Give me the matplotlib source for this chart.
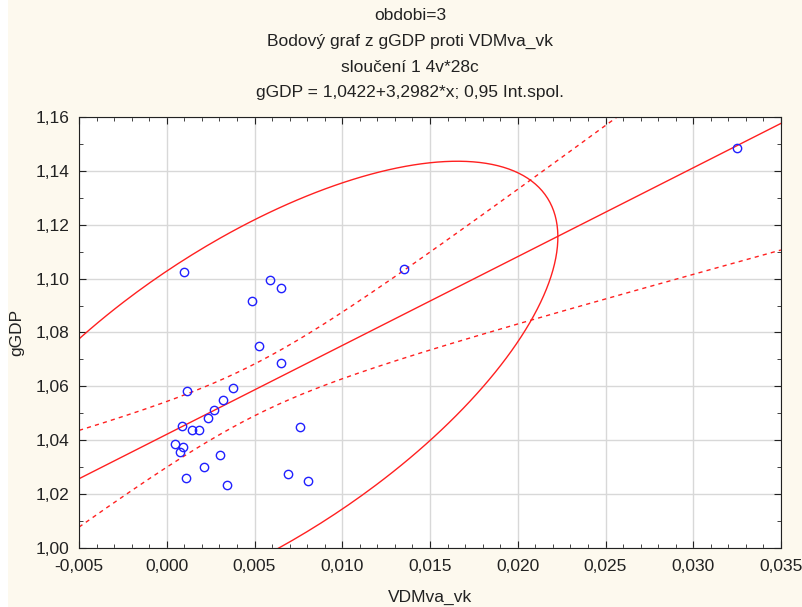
import numpy as np
import matplotlib
matplotlib.use("Agg")
import matplotlib.pyplot as plt
from matplotlib.patches import Rectangle
from matplotlib.ticker import MultipleLocator, FuncFormatter

plt.rcParams['font.family'] = ['Liberation Sans', 'DejaVu Sans']

# data
vdmva_vk = [0.0325, 0.0135, 0.00098, 0.00588, 0.0065, 0.00486, 0.00526, 0.0065,
            0.00377, 0.00115, 0.0032, 0.00269, 0.00235, 0.00087, 0.00144, 0.00184,
            0.00759, 0.00047, 0.00093, 0.00076, 0.00303, 0.00212, 0.00110, 0.00691,
            0.00343, 0.00805]
ggdp = [1.1485, 1.1036, 1.1025, 1.0995, 1.0965, 1.0917, 1.0750, 1.0687,
        1.0594, 1.0583, 1.0549, 1.0512, 1.0483, 1.0453, 1.0438, 1.0438,
        1.0449, 1.0386, 1.0375, 1.0356, 1.0345, 1.0301, 1.0260, 1.0275,
        1.0234, 1.0249]
intercept = 1.0422
slope = 3.2982

x = np.array(vdmva_vk)
y = np.array(ggdp)
n = len(x)

fig = plt.figure(figsize=(8.03, 6.07), dpi=100, facecolor='white')
fig.patches.append(Rectangle((8 / 803, 0), 1, 1, transform=fig.transFigure,
                             facecolor='#fdf9ee', edgecolor='none', zorder=-10))
ax = fig.add_axes([79 / 803, 1 - 548 / 607, 702 / 803, 431 / 607])
ax.set_facecolor('white')

red = '#ff2020'

# regression line and 0.95 confidence band
xs = np.linspace(-0.005, 0.035, 300)
yfit = intercept + slope * xs
resid = y - (intercept + slope * x)
s = np.sqrt(np.sum(resid ** 2) / (n - 2))
sxx = np.sum((x - x.mean()) ** 2)
t = 2.056
band = t * s * np.sqrt(1 / n + (xs - x.mean()) ** 2 / sxx)
ax.plot(xs, yfit, color=red, lw=1)
ax.plot(xs, yfit + band, color=red, lw=1, ls=(0, (3, 3)))
ax.plot(xs, yfit - band, color=red, lw=1, ls=(0, (3, 3)))

# 95% prediction ellipse
cov = np.cov(x, y)
vals, vecs = np.linalg.eigh(cov)
f95 = 3.40
k = np.sqrt(2 * (n - 1) * (n + 1) / (n * (n - 2)) * f95)
th = np.linspace(0, 2 * np.pi, 400)
circ = np.vstack([np.cos(th), np.sin(th)])
pts = vecs @ (np.sqrt(vals)[:, None] * k * circ)
ax.plot(x.mean() + pts[0], y.mean() + pts[1], color=red, lw=1)

ax.plot(x, y, 'o', mfc='none', mec='#2020ff', ms=6, mew=1, zorder=5)

ax.set_xlim(-0.005, 0.035)
ax.set_ylim(1.00, 1.16)
ax.xaxis.set_major_locator(MultipleLocator(0.005))
ax.xaxis.set_minor_locator(MultipleLocator(0.001))
ax.yaxis.set_major_locator(MultipleLocator(0.02))
ax.yaxis.set_minor_locator(MultipleLocator(0.01))
ax.xaxis.set_major_formatter(FuncFormatter(lambda v, p: ('%.3f' % v).replace('.', ',')))
ax.yaxis.set_major_formatter(FuncFormatter(lambda v, p: ('%.2f' % v).replace('.', ',')))
ax.tick_params(which='both', direction='in', top=True, right=True, colors='#222222',
               labelsize=12.5)
ax.tick_params(which='major', length=5)
ax.tick_params(which='minor', length=3)
ax.tick_params(axis='x', which='major', pad=8)
ax.tick_params(axis='y', which='major', pad=7)
ax.grid(True, which='major', color='#d8d8d8', lw=1)
ax.set_axisbelow(True)
for sp in ax.spines.values():
    sp.set_color('#222222')

ax.set_xlabel('VDMva_vk', fontsize=12.5, color='#222222', labelpad=11)
ax.set_ylabel('gGDP', fontsize=12.5, color='#222222', labelpad=8)

titles = ['obdobi=3', 'Bodový graf z gGDP proti VDMva_vk', 'sloučení 1 4v*28c',
          'gGDP = 1,0422+3,2982*x; 0,95 Int.spol.']
for i, tt in enumerate(titles):
    fig.text(410 / 803, 1 - (16 + i * 25.5) / 607, tt, ha='center', va='center',
             fontsize=12.5, color='#222222')

fig.savefig('out.png', dpi=100, facecolor=fig.get_facecolor())
